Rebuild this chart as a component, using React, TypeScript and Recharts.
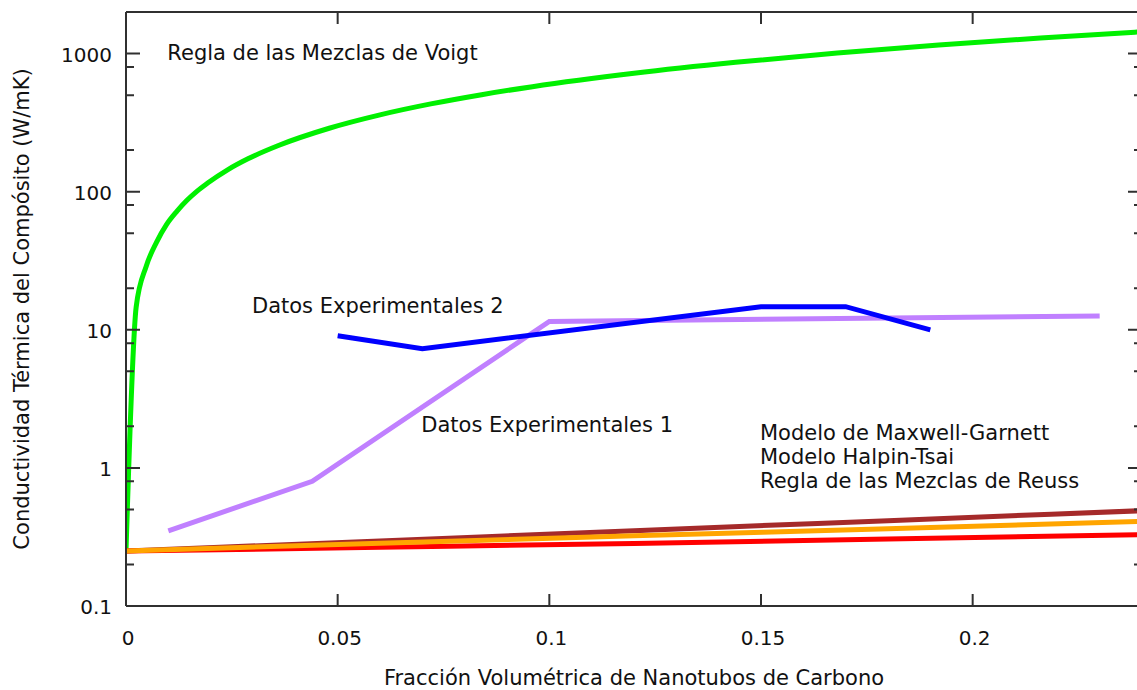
import {
  Line,
  LineChart,
  ReferenceDot,
  XAxis,
  YAxis,
} from "recharts";

// volume fraction of nanotubes (x) and thermal conductivity in W/mK (y)
const voigtX = [0, 0.0024, 0.0048, 0.0072, 0.0096, 0.012, 0.0144, 0.0168, 0.0192, 0.024, 0.0288, 0.036, 0.048, 0.06, 0.072, 0.084, 0.096, 0.12, 0.144, 0.168, 0.192, 0.216, 0.24];
const voigtY = [0.25, 14.6, 29, 43, 58, 72, 86.6, 101, 115, 144, 173, 216, 288, 360, 432, 504, 576, 720, 864, 1008, 1152, 1296, 1440];

const modelX = [0, 0.06, 0.12, 0.18, 0.24];
const maxwellY = [0.25, 0.296, 0.351, 0.415, 0.49];
const halpinY = [0.25, 0.285, 0.322, 0.363, 0.41];
const reussY = [0.25, 0.266, 0.284, 0.305, 0.329];

const exp1X = [0.01, 0.044, 0.1, 0.23];
const exp1Y = [0.35, 0.8, 11.5, 12.6];

const exp2X = [0.05, 0.07, 0.15, 0.17, 0.19];
const exp2Y = [9.05, 7.3, 14.7, 14.7, 10];

const xTicks = [0, 0.05, 0.1, 0.15, 0.2];
const yMajor = [0.1, 1, 10, 100, 1000];
const yMinor = [0.2, 0.5, 0.8, 2, 5, 8, 20, 50, 80, 200, 500, 800];

const notes = [
  { x: 0.01, y: 1000, text: "Regla de las Mezclas de Voigt" },
  { x: 0.03, y: 14.6, text: "Datos Experimentales 2" },
  { x: 0.07, y: 2, text: "Datos Experimentales 1" },
  { x: 0.15, y: 1.75, text: "Modelo de Maxwell-Garnett" },
  { x: 0.15, y: 1.17, text: "Modelo Halpin-Tsai" },
  { x: 0.15, y: 0.785, text: "Regla de las Mezclas de Reuss" },
];

const pairs = (xs: number[], ys: number[]) => xs.map((x, i) => ({ x, y: ys[i] }));

const X_DOMAIN: [number, number] = [0, 0.24];
const Y_DOMAIN: [number, number] = [0.1, 2000];
const AXIS = { stroke: "#303030", strokeWidth: 2 };
const TEXT = "#111";

// frame of the plot area, in px
const W = 1150;
const H = 690;
const TOP = 12;
const LEFT = 126;
const RIGHT_M = 8;
const BOTTOM_H = 84;
const PLOT_RIGHT = W - RIGHT_M;
const PLOT_BOTTOM = H - BOTTOM_H;

// ticks point inwards and are mirrored on the opposite side
const XTick = (p: any) => {
  const cx = Number(p.x);
  return (
    <g>
      <path d={`M${cx},${PLOT_BOTTOM - 12}V${PLOT_BOTTOM}M${cx},${TOP}V${TOP + 12}`} {...AXIS} fill="none" />
      <text x={cx + 2} y={p.y} dy="0.71em" textAnchor="middle" fontSize={20} fill={TEXT}>
        {String(p.payload.value)}
      </text>
    </g>
  );
};

const YTick = (p: any) => {
  const cy = Number(p.y);
  const v = p.payload.value;
  const major = yMajor.includes(v);
  const len = major ? 14 : 8;
  return (
    <g>
      <path d={`M${LEFT},${cy}H${LEFT + len}M${PLOT_RIGHT - len},${cy}H${PLOT_RIGHT}`} {...AXIS} fill="none" />
      {major && (
        <text x={p.x} y={cy} dy="0.4em" textAnchor="end" fontSize={20} fill={TEXT}>
          {String(v)}
        </text>
      )}
    </g>
  );
};

export default function App() {
  const series = [
    { name: "Voigt", data: pairs(voigtX, voigtY), color: "#00f000", curve: "monotone" },
    { name: "Maxwell-Garnett", data: pairs(modelX, maxwellY), color: "#a52a2a", curve: "monotone" },
    { name: "Reuss", data: pairs(modelX, reussY), color: "#ff0000", curve: "monotone" },
    { name: "Halpin-Tsai", data: pairs(modelX, halpinY), color: "#ffa500", curve: "monotone" },
    { name: "Exp 1", data: pairs(exp1X, exp1Y), color: "#c080ff", curve: "linear" },
    { name: "Exp 2", data: pairs(exp2X, exp2Y), color: "#0000ff", curve: "linear" },
  ];

  const yTicks = [...yMajor, ...yMinor].sort((a, b) => a - b);

  return (
    <div
      style={{
        position: "absolute",
        left: 0,
        top: 0,
        width: 1137,
        height: H,
        overflow: "hidden",
        background: "#fff",
        fontFamily: "'DejaVu Sans', sans-serif",
      }}
    >
      <LineChart width={W} height={H} margin={{ top: TOP, right: RIGHT_M, left: 0, bottom: 0 }}>
        <XAxis
          xAxisId="x"
          dataKey="x"
          type="number"
          domain={X_DOMAIN}
          allowDataOverflow
          ticks={xTicks}
          interval={0}
          height={BOTTOM_H}
          tickLine={false}
          tickSize={0}
          tickMargin={25}
          axisLine={AXIS}
          tick={<XTick />}
          label={{
            value: "Fracción Volumétrica de Nanotubos de Carbono",
            position: "insideBottom",
            offset: 5,
            style: { fontSize: 21, fill: TEXT },
          }}
        />
        <XAxis xAxisId="xt" orientation="top" type="number" domain={X_DOMAIN} allowDataOverflow mirror
          height={1} ticks={xTicks} tick={false} tickLine={false} axisLine={AXIS} />

        <YAxis
          yAxisId="y"
          type="number"
          scale="log"
          domain={Y_DOMAIN}
          allowDataOverflow
          ticks={yTicks}
          interval={0}
          width={LEFT}
          tickLine={false}
          tickSize={0}
          tickMargin={14}
          axisLine={AXIS}
          tick={<YTick />}
          label={{
            value: "Conductividad Térmica del Compósito (W/mK)",
            angle: -90,
            position: "insideLeft",
            offset: 22,
            style: { textAnchor: "middle", fontSize: 21, fill: TEXT },
          }}
        />
        <YAxis yAxisId="yr" orientation="right" type="number" scale="log" domain={Y_DOMAIN} allowDataOverflow mirror
          width={1} ticks={yMajor} tick={false} tickLine={false} axisLine={AXIS} />

        {series.map((s) => (
          <Line
            key={s.name}
            xAxisId="x"
            yAxisId="y"
            data={s.data}
            dataKey="y"
            type={s.curve as "monotone" | "linear"}
            stroke={s.color}
            strokeWidth={5}
            dot={false}
            activeDot={false}
            isAnimationActive={false}
          />
        ))}

        {notes.map((n) => (
          <ReferenceDot
            key={n.text}
            xAxisId="x"
            yAxisId="y"
            x={n.x}
            y={n.y}
            r={1}
            fill="none"
            stroke="none"
            ifOverflow="visible"
            label={(p: any) => (
              <text
                x={p.viewBox.x}
                y={p.viewBox.y}
                dominantBaseline="central"
                fontSize={21}
                fill={TEXT}
              >
                {n.text}
              </text>
            )}
          />
        ))}
      </LineChart>
    </div>
  );
}
